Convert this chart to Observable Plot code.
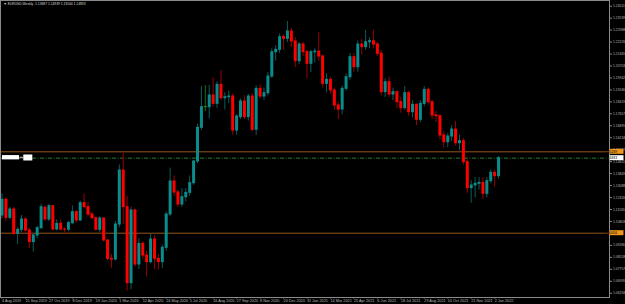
<!DOCTYPE html>
<html><head><meta charset="utf-8">
<script src="https://cdn.jsdelivr.net/npm/d3@7"></script>
<script src="https://cdn.jsdelivr.net/npm/@observablehq/plot@0.6"></script>
<style>html,body{margin:0;padding:0;background:#000;overflow:hidden}</style>
</head><body><div id="chart"></div>
<script>
const symbol = "EURUSD,Weekly";
const firstWeek = "2019-08-04";
const lastWeek = "2022-01-09";

const open = [1.11183,1.12181,1.11034,1.11565,1.10015,1.10270,1.10928,1.10228,1.09485,1.09909,
1.10376,1.11671,1.10928,1.11777,1.10291,1.10652,1.10291,1.10280,1.10695,1.11395,
1.10865,1.11968,1.11714,1.11247,1.11013,1.10270,1.10992,1.09591,1.08423,1.08380,
1.10610,1.14049,1.11714,1.06874,1.11501,1.08063,1.09379,1.08636,1.08211,1.09655,
1.08423,1.08211,1.09124,1.11247,1.13348,1.12648,1.11883,1.12350,1.12626,1.13242,
1.14622,1.16765,1.18081,1.18081,1.18824,1.18293,1.19503,1.18654,1.18718,1.18760,
1.16595,1.17444,1.18442,1.17444,1.18760,1.16638,1.19248,1.18760,1.18973,1.20034,
1.21583,1.21732,1.22539,1.22433,1.22900,1.22263,1.21010,1.22072,1.21583,1.20840,
1.21583,1.21626,1.21307,1.19567,1.19822,1.19142,1.18187,1.17932,1.19248,1.19991,
1.21265,1.20628,1.22072,1.21902,1.22220,1.22284,1.22072,1.21477,1.19036,1.19673,
1.18888,1.19036,1.18399,1.18017,1.18973,1.17763,1.18230,1.17274,1.18293,1.19185,
1.18399,1.17550,1.17508,1.16277,1.15852,1.16213,1.16659,1.15788,1.15916,1.14579,
1.12923,1.13093,1.13199,1.13262,1.12562,1.13369,1.13899,1.13687];
const high = [1.12563,1.12300,1.11700,1.11700,1.10400,1.11183,1.11050,1.10350,1.10000,1.10500,
1.11900,1.11800,1.11900,1.11800,1.10900,1.10900,1.10400,1.10800,1.11800,1.11500,
1.12100,1.12563,1.12000,1.11400,1.11100,1.11100,1.11050,1.09650,1.08700,1.10800,
1.14400,1.15174,1.12400,1.11700,1.11600,1.09700,1.09500,1.08900,1.10000,1.09900,
1.08700,1.09300,1.11400,1.14200,1.13700,1.12800,1.12900,1.12900,1.13700,1.14700,
1.17000,1.19397,1.19461,1.19461,1.19949,1.19700,1.20416,1.19000,1.19100,1.18900,
1.17600,1.18600,1.18800,1.18900,1.18950,1.19450,1.19500,1.19300,1.20300,1.21800,
1.22000,1.22750,1.22700,1.23536,1.23100,1.22500,1.22200,1.22200,1.21700,1.21700,
1.21800,1.22815,1.21400,1.20200,1.20000,1.19300,1.18400,1.19400,1.20200,1.21500,
1.21500,1.22300,1.22400,1.22963,1.22500,1.22963,1.22200,1.21700,1.19900,1.20000,
1.19300,1.19100,1.18700,1.19397,1.19100,1.18500,1.18300,1.18500,1.19397,1.19300,
1.18500,1.17800,1.17600,1.16500,1.16400,1.16900,1.17168,1.16300,1.16100,1.14700,
1.13400,1.13600,1.13600,1.13600,1.13600,1.14100,1.14100,1.14939];
const low = [1.10950,1.10800,1.10900,1.09900,1.09336,1.10100,1.10150,1.09060,1.08848,1.09700,
1.10300,1.10800,1.10800,1.10200,1.10200,1.10200,1.09950,1.10150,1.10600,1.10700,
1.10800,1.11600,1.11100,1.10900,1.10200,1.10100,1.09500,1.08300,1.07829,1.08300,
1.10400,1.10600,1.06364,1.06450,1.07900,1.07750,1.08400,1.07256,1.08100,1.07750,
1.07700,1.07800,1.08900,1.11100,1.12400,1.11700,1.11700,1.12050,1.12400,1.13100,
1.14500,1.16600,1.17800,1.17338,1.18100,1.18000,1.18500,1.17900,1.18300,1.16300,
1.16300,1.17300,1.17300,1.17200,1.16500,1.16277,1.18600,1.18500,1.18800,1.19900,
1.21000,1.21500,1.21700,1.22200,1.21900,1.20600,1.20800,1.21300,1.19885,1.20300,
1.20900,1.21000,1.19300,1.19000,1.18900,1.17900,1.17296,1.17600,1.19100,1.19800,
1.20300,1.20300,1.21400,1.21700,1.21800,1.21800,1.21300,1.18800,1.18700,1.18700,
1.18500,1.18000,1.17700,1.17900,1.17500,1.17400,1.16913,1.17100,1.18100,1.18200,
1.17300,1.17100,1.16000,1.15470,1.15500,1.15900,1.15600,1.15300,1.14400,1.12600,
1.11968,1.12300,1.12800,1.12200,1.12300,1.13200,1.13000,1.13500];
const close = [1.12181,1.11034,1.11565,1.10015,1.10270,1.10928,1.10228,1.09485,1.09909,1.10376,
1.11714,1.10928,1.11777,1.10291,1.10652,1.10291,1.10280,1.10695,1.11395,1.10865,
1.11968,1.11714,1.11247,1.11013,1.10270,1.10992,1.09591,1.08423,1.08380,1.10610,
1.14049,1.11714,1.06874,1.11501,1.08063,1.09379,1.08636,1.08211,1.09655,1.08423,
1.08211,1.09124,1.11247,1.13348,1.12648,1.11883,1.12350,1.12626,1.13242,1.14622,
1.16765,1.18081,1.18081,1.18824,1.18293,1.19503,1.18654,1.18718,1.18760,1.16595,
1.17487,1.18442,1.17444,1.18760,1.16638,1.19248,1.18760,1.18973,1.20034,1.21583,
1.21732,1.22539,1.22433,1.22900,1.22263,1.21010,1.22072,1.21583,1.20840,1.21583,
1.21626,1.21307,1.19567,1.19822,1.19142,1.18187,1.17932,1.19248,1.19991,1.21265,
1.20628,1.22072,1.21902,1.22220,1.22284,1.22072,1.21477,1.19036,1.19673,1.18888,
1.19036,1.18399,1.18017,1.18973,1.17763,1.18230,1.17274,1.18293,1.19185,1.18399,
1.17550,1.17508,1.16277,1.15852,1.16213,1.16659,1.15788,1.15916,1.14579,1.12923,
1.13093,1.13199,1.13262,1.12562,1.13369,1.13899,1.13687,1.14833];

const dateLabels = ["4 Aug 2019","15 Sep 2019","27 Oct 2019","8 Dec 2019","19 Jan 2020","1 Mar 2020",
"12 Apr 2020","24 May 2020","5 Jul 2020","16 Aug 2020","27 Sep 2020","8 Nov 2020","20 Dec 2020",
"31 Jan 2021","14 Mar 2021","25 Apr 2021","6 Jun 2021","18 Jul 2021","29 Aug 2021","10 Oct 2021",
"21 Nov 2021","2 Jan 2022"];
// 1.10041 sits under the lower orange price tag in the picture, so it is not listed
const priceLabels = [1.24511,1.23749,1.22988,1.22226,1.21465,1.20703,1.19942,1.19180,1.18419,1.17657,
1.16895,1.16134,1.15372,1.14611,1.13849,1.13088,1.12326,1.11565,1.10803,1.09280,1.08518,
1.07757,1.06995,1.06234];
const orangeLevels = [1.15239, 1.10056];
const bidLevel = 1.14833;

// ---- layout ----
const W = 625, H = 304, mR = 16, mB = 7;
const WEEK = 604800000;
const t0 = Date.parse(firstWeek + "T00:00:00Z");
const pxPerWeek = 3.91, firstBarPx = 1.5, plotRight = W - mR;
const xDomain = [new Date(t0 - firstBarPx / pxPerWeek * WEEK), new Date(t0 + (plotRight - firstBarPx) / pxPerWeek * WEEK)];
const yDomain = [1.05961, 1.24874];

const weeks = d3.utcSunday.range(new Date(t0), new Date(Date.parse(lastWeek + "T00:00:00Z") + 1));
const bars = open.map((o, i) => ({date: weeks[i], o, h: high[i], l: low[i], c: close[i]}));
const parse = d3.utcParse("%-d %b %Y");
const tickDates = dateLabels.map(parse);

const TEAL = "#0a8c8c", RED = "#ff0000", DOJI = "#1f9a1f";
const bodyColor = d => d.c > d.o ? TEAL : d.c < d.o ? RED : DOJI;
const wickColor = d => d.c > d.o ? "#0a5c5c" : d.c < d.o ? "#9a0000" : "#1a6a1a";
const f5 = d3.format(".5f");
const font = "Liberation Sans, Arial, sans-serif";

const chart = Plot.plot({
  width: W, height: H,
  marginTop: 0, marginLeft: 0, marginRight: mR, marginBottom: mB,
  style: {background: "#000", color: "#b8b8b8", fontFamily: font},
  x: {type: "utc", domain: xDomain, axis: null},
  y: {domain: yDomain, axis: null},
  marks: [
    Plot.ruleY(orangeLevels, {stroke: "#94561a", strokeWidth: 1}),
    Plot.ruleY([bidLevel], {stroke: "#2f7a2f", strokeWidth: 1, strokeDasharray: "4,1.5,1,1.5"}),
    Plot.ruleX(bars, {x: "date", y1: "l", y2: "h", stroke: wickColor, strokeWidth: 1}),
    Plot.ruleX(bars, {x: "date", y1: d => Math.max(d.o, d.c), y2: d => Math.min(d.o, d.c),
      stroke: bodyColor, strokeWidth: 3, insetTop: -0.5, insetBottom: -0.5}),
    Plot.frame({stroke: "#8a8a8a", strokeWidth: 1}),
    Plot.axisY({anchor: "right", ticks: priceLabels, tickFormat: f5, tickSize: 2, tickPadding: 1.5,
      fontSize: 6.8, stroke: "#8a8a8a", ariaLabel: "yax"}),
    Plot.axisX({anchor: "bottom", ticks: tickDates, tickFormat: d3.utcFormat("%-d %b %Y"), tickSize: 1.5,
      tickPadding: 0.5, textAnchor: "start", fontSize: 7.6, stroke: "#8a8a8a", ariaLabel: "xax"}),
    Plot.text([`\u25BC ${symbol}  ${f5(open.at(-1))} ${f5(high.at(-1))} ${f5(low.at(-1))} ${f5(close.at(-1))}`],
      {frameAnchor: "top-left", dx: 3, dy: 2.5, fontSize: 6.6, fill: "#d8d8d8", textAnchor: "start", lineAnchor: "top"})
  ]
});

// price tags on the right axis and the object label on the left, placed via the plot's y scale
const svg = d3.select(chart);
const ys = v => chart.scale("y").apply(v);
const tags = [
  {v: orangeLevels[0], fill: "#f0961e", text: "#000"},
  {v: bidLevel, fill: "#ffffff", text: "#000"},
  {v: orangeLevels[1], fill: "#f0961e", text: "#000"}
];
const g = svg.append("g").attr("font-family", font).attr("font-size", 6.8);
for (const t of tags) {
  const yy = ys(t.v);
  g.append("rect").attr("x", plotRight + 0.5).attr("y", yy - 2.5).attr("width", 14).attr("height", 5).attr("fill", t.fill);
  g.append("text").attr("transform", `translate(${plotRight + 2},${yy})`).attr("dy", "0.35em").attr("fill", t.text).text(f5(t.v));
}
const yb = ys(bidLevel);
g.append("rect").attr("x", 2).attr("y", yb - 2.6).attr("width", 17).attr("height", 4.3).attr("fill", "#ffffff");
g.append("rect").attr("x", 19.5).attr("y", yb - 1).attr("width", 4).attr("height", 1.5).attr("fill", "#9a9a9a");
g.append("rect").attr("x", 23.3).attr("y", yb - 3.2).attr("width", 9).attr("height", 6).attr("fill", "#ffffff");

// Render the tiny text at half scale (browsers clamp very small font sizes)
svg.selectAll("text").each(function() {
  let tr = this.getAttribute("transform") || "";
  let tx = 0, ty = 0, moved = false;
  for (const a of ["x", "y"]) {
    const v = this.getAttribute(a);
    if (v !== null && !/em$/.test(v)) {
      if (a === "x") tx = +v; else ty = +v;
      this.removeAttribute(a); moved = true;
    }
  }
  if (moved) tr += ` translate(${tx},${ty})`;
  this.setAttribute("transform", tr + " scale(0.5)");
});

document.getElementById("chart").append(chart);
</script></body></html>
